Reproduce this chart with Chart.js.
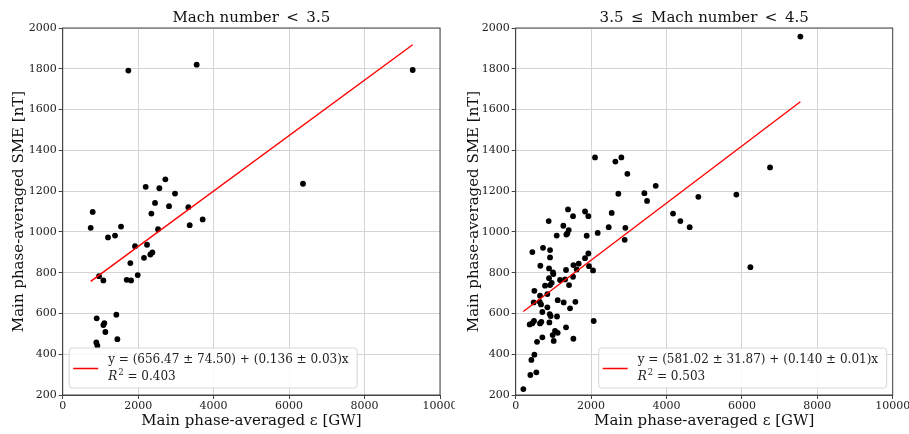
<!DOCTYPE html>
<html>
<head>
<meta charset="utf-8">
<script src="https://cdn.jsdelivr.net/npm/chart.js@4.4.0/dist/chart.umd.min.js"></script>
<style>
html, body { margin: 0; padding: 0; background: #fff; }
#wrap { position: relative; width: 909px; height: 434px; }
.box { position: absolute; top: 0; height: 434px; }
#boxL { left: 0; width: 455px; }
#boxR { left: 455px; width: 454px; }
</style>
</head>
<body>
<div id="wrap">
  <div class="box" id="boxL"><canvas id="chartL"></canvas></div>
  <div class="box" id="boxR"><canvas id="chartR"></canvas></div>
</div>
<script>
// Mach number < 3.5
const epsLow = [742, 795, 1740, 3551, 9276, 6369, 2200, 2721, 2562, 2977, 2447, 2818, 3330, 2350,
  3366, 3710, 2527, 1546, 1387, 1201, 1917, 2235, 2376, 2323, 2155, 1793, 1988, 1696, 1811,
  963, 1078, 901, 1422, 1104, 1078, 1131, 1449, 892, 919];
const smeLow = [1020, 1098, 1791, 1820, 1794, 1236, 1221, 1258, 1214, 1188, 1142, 1126, 1121, 1090,
  1033, 1061, 1013, 1026, 982, 973, 930, 937, 899, 889, 873, 847, 788, 765, 762,
  783, 762, 576, 594, 553, 543, 509, 474, 458, 442];

// 3.5 <= Mach number < 4.5
const epsMid = [7551, 6746, 5853, 6225, 4845, 4173, 4368, 4615, 3714, 3413, 3484, 2104, 2644, 2803,
  2962, 2723, 2546, 2467, 2909, 2891, 2175, 2069,
  1388, 1521, 1839, 1927, 1406, 1370, 1344, 1883, 1088, 1264, 875,
  725, 442, 911, 911, 654, 884, 990, 999, 884, 1335, 1176, 1309, 1415, 1521, 1530, 1671, 1618,
  1839, 1927, 1945, 2051,
  778, 911, 955, 840, 645, 495, 477, 637, 707, 840, 672, 1114, 1273, 1583, 1441,
  902, 928, 1096, 371, 442, 486, 645, 681, 893, 1335,
  1008, 1114, 1043, 981, 1530, 707, 566, 495, 416, 389, 548, 203];
const smeMid = [1958, 1316, 1183, 827, 1172, 1090, 1053, 1023, 1226, 1190, 1152, 1365, 1345, 1365,
  1285, 1187, 1093, 1023, 1020, 961, 995, 563,
  1110, 1077, 1100, 1077, 1009, 992, 987, 981, 982, 1030, 1053,
  922, 901, 911, 875, 834, 821, 801, 793, 773, 813, 764, 767, 739, 780, 837, 844, 816,
  871, 894, 832, 811,
  736, 739, 750, 695, 687, 711, 654, 657, 607, 630, 644, 665, 654, 657, 625,
  597, 587, 585, 546, 552, 563, 551, 559, 556, 532,
  465, 505, 514, 494, 476, 483, 461, 398, 372, 298, 311, 229];

// fit: intercept, slope (as given in the legends)
const fitLow = [656.47, 0.136];
const fitMid = [581.02, 0.140];
const fitTextLow = ['y = (656.47 ± 74.50) + (0.136 ± 0.03)x', ' = 0.403'];
const fitTextMid = ['y = (581.02 ± 31.87) + (0.140 ± 0.01)x', ' = 0.503'];

const titleLow = 'Mach number\u2002<\u20023.5';
const titleMid = '3.5\u2002≤\u2002Mach number\u2002<\u20024.5';
const xLabel = 'Main phase-averaged ε [GW]';
const yLabel = 'Main phase-averaged SME [nT]';
const xTicks = [0, 2000, 4000, 6000, 8000, 10000];
const yTicks = [200, 400, 600, 800, 1000, 1200, 1400, 1600, 1800, 2000];

const FONT = "'DejaVu Serif', serif";

// matplotlib-like frame, title over the axes and legend box inside the plot area
const boxPlugin = {
    id: 'boxPlugin',
    afterDatasetsDraw(chart, args, opts) {
        const ctx = chart.ctx;
        const a = chart.chartArea;
        ctx.save();
        ctx.strokeStyle = '#444';
        ctx.lineWidth = 1;
        ctx.strokeRect(a.left, a.top, a.right - a.left, a.bottom - a.top);

        // title centred on the axes, like matplotlib
        ctx.fillStyle = '#111';
        ctx.font = '15px ' + FONT;
        ctx.textAlign = 'center';
        ctx.textBaseline = 'middle';
        ctx.fillText(opts.title, (a.left + a.right) / 2, 18);

        const w = 288, h = 40;
        const bx = opts.side === 'left' ? a.left + 6.5 : a.right - 6 - w;
        const by = a.bottom - 7 - h;
        ctx.beginPath();
        ctx.roundRect(bx, by, w, h, 3);
        ctx.fillStyle = 'rgba(255,255,255,0.85)';
        ctx.fill();
        ctx.strokeStyle = '#d6d6d6';
        ctx.stroke();

        ctx.beginPath();
        ctx.moveTo(bx + 4, by + 20.5);
        ctx.lineTo(bx + 29, by + 20.5);
        ctx.strokeStyle = 'red';
        ctx.lineWidth = 1.5;
        ctx.stroke();

        ctx.fillStyle = '#222';
        ctx.textAlign = 'left';
        ctx.font = '12px ' + FONT;
        ctx.fillText(opts.lines[0], bx + 39, by + 12);
        ctx.font = 'italic 12px ' + FONT;
        ctx.fillText('R', bx + 39, by + 29);
        let x = bx + 39 + ctx.measureText('R').width + 1;
        ctx.font = '8.5px ' + FONT;
        ctx.fillText('2', x, by + 25);
        x += ctx.measureText('2').width;
        ctx.font = '12px ' + FONT;
        ctx.fillText(opts.lines[1], x, by + 29);
        ctx.restore();
    }
};

function makeChart(id, eps, sme, fit, lines, title, axisW, padRight, side) {
    const pts = eps.map((v, i) => ({ x: v, y: sme[i] }));
    const x0 = Math.min(...eps), x1 = Math.max(...eps);
    const fitPts = [x0, x1].map(v => ({ x: v, y: fit[0] + fit[1] * v }));

    return new Chart(document.getElementById(id), {
        type: 'scatter',
        data: {
            datasets: [{
                data: fitPts,
                showLine: true,
                borderColor: 'red',
                borderWidth: 1.4,
                pointRadius: 0
            }, {
                data: pts,
                backgroundColor: '#000',
                borderWidth: 0,
                pointRadius: 2.9
            }]
        },
        options: {
            responsive: true,
            maintainAspectRatio: false,
            animation: false,
            layout: { padding: { left: 0, right: padRight, top: 28, bottom: 0 } },
            plugins: {
                legend: { display: false },
                tooltip: { enabled: false },
                title: { display: false },
                boxPlugin: { side: side, lines: lines, title: title }
            },
            scales: {
                x: {
                    type: 'linear',
                    min: xTicks[0],
                    max: xTicks[xTicks.length - 1],
                    afterBuildTicks: s => { s.ticks = xTicks.map(v => ({ value: v })); },
                    afterFit: s => { s.height = 39; s.paddingLeft = 0; s.paddingRight = 0; },
                    ticks: {
                        color: '#222', padding: 1, maxRotation: 0,
                        font: { family: FONT, size: 11 },
                        callback: v => String(v)
                    },
                    grid: { color: '#d4d4d4', tickColor: '#444', tickLength: 4 },
                    border: { color: '#444' },
                    title: {
                        display: true, text: xLabel, color: '#111',
                        font: { family: FONT, size: 15 }, padding: { top: 0, bottom: 4 }
                    }
                },
                y: {
                    type: 'linear',
                    min: yTicks[0],
                    max: yTicks[yTicks.length - 1],
                    afterBuildTicks: s => { s.ticks = yTicks.map(v => ({ value: v })); },
                    afterFit: s => { s.width = axisW; s.paddingTop = 0; s.paddingBottom = 0; },
                    ticks: {
                        color: '#222', padding: 2,
                        font: { family: FONT, size: 11 },
                        callback: v => String(v)
                    },
                    grid: { color: '#d4d4d4', tickColor: '#444', tickLength: 4 },
                    border: { color: '#444' },
                    title: {
                        display: true, text: yLabel, color: '#111',
                        font: { family: FONT, size: 15 }, padding: { top: 10, bottom: 0 }
                    }
                }
            }
        },
        plugins: [boxPlugin]
    });
}

makeChart('chartL', epsLow, smeLow, fitLow, fitTextLow, titleLow, 62.7, 15, 'left');
makeChart('chartR', epsMid, smeMid, fitMid, fitTextMid, titleMid, 60.7, 16.3, 'right');
</script>
</body>
</html>
